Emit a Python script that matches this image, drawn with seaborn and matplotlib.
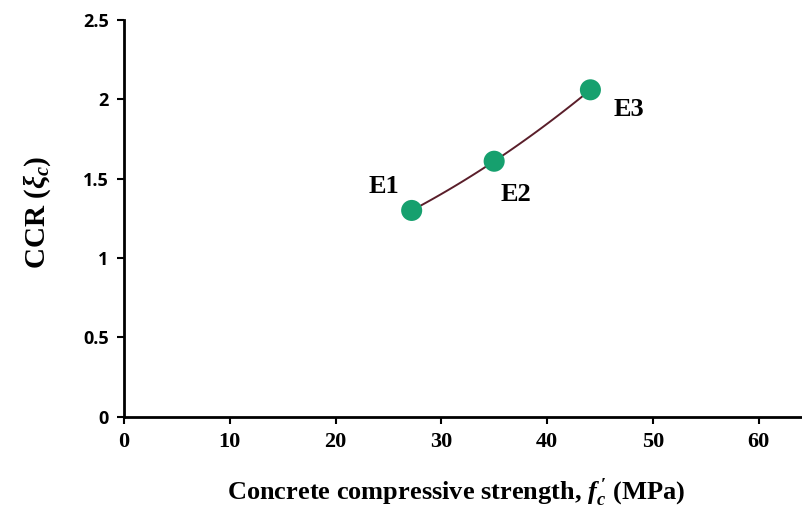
import matplotlib
matplotlib.use("Agg")
import matplotlib.pyplot as plt
import seaborn as sns
import pandas as pd

# Specimen data
specimens = ["E1", "E2", "E3"]
strength = [27.2, 35.0, 44.1]      # concrete compressive strength f'c (MPa)
ccr = [1.30, 1.61, 2.06]           # CCR (xi_c)
x_ticks = [0, 10, 20, 30, 40, 50, 60]
y_ticks = [0, 0.5, 1, 1.5, 2, 2.5]

df = pd.DataFrame({"specimen": specimens, "fc": strength, "ccr": ccr})

sns.set_style("ticks")
plt.rcParams["font.family"] = ["Liberation Serif", "DejaVu Serif"]
plt.rcParams["text.color"] = "black"
plt.rcParams["axes.labelcolor"] = "black"
plt.rcParams["xtick.color"] = "black"
plt.rcParams["ytick.color"] = "black"
plt.rcParams["mathtext.fontset"] = "custom"
plt.rcParams["mathtext.rm"] = "Liberation Serif:bold"
plt.rcParams["mathtext.it"] = "Liberation Serif:bold:italic"
plt.rcParams["mathtext.bf"] = "Liberation Serif:bold"

fig = plt.figure(figsize=(8.03, 5.19), dpi=100)
ax = fig.add_axes([0.1544, 0.197, 0.8456, 0.7645])

# Quadratic trend through the specimens
sns.regplot(data=df, x="fc", y="ccr", order=2, ci=None, scatter=False,
            line_kws={"color": "#5a1e2a", "lw": 1.4}, ax=ax, truncate=True)
sns.scatterplot(data=df, x="fc", y="ccr", s=230, color="#16a06e",
                edgecolor="none", zorder=3, ax=ax)

offsets = {"E1": (-20, 17), "E2": (16, -24), "E3": (28, -14)}
for name, xv, yv in zip(specimens, strength, ccr):
    ax.annotate(name, (xv, yv), xytext=offsets[name], textcoords="offset points",
                ha="center", va="center", fontsize=19, fontweight="bold",
                family="Liberation Serif", color="black")

ax.set_xlim(0, 64.2)
ax.set_ylim(0, 2.5)
ax.set_xticks(x_ticks)
ax.set_yticks(y_ticks)
ax.set_yticklabels([f"{v:g}" for v in y_ticks], family="Open Sans",
                   fontweight="bold", fontsize=13)
ax.set_xticklabels([str(v) for v in x_ticks], family="Liberation Serif",
                   fontweight="bold", fontsize=16)

for side in ("top", "right"):
    ax.spines[side].set_visible(False)
for side in ("left", "bottom"):
    ax.spines[side].set_linewidth(2.0)
    ax.spines[side].set_color("black")
ax.tick_params(direction="out", length=5, width=1.5, color="black")
ax.tick_params(axis="y", pad=6)
ax.tick_params(axis="x", pad=6)

ax.set_xlabel(r"Concrete compressive strength, $f_c^{\,\prime}$ (MPa)",
              fontsize=19, fontweight="bold")
ax.xaxis.set_label_coords(0.489, -0.15)
ax.set_ylabel(r"CCR ($\xi_c$)", fontsize=21, fontweight="bold")
ax.yaxis.set_label_coords(-0.104, 0.515)

fig.savefig("out.png", dpi=100, facecolor="white")
